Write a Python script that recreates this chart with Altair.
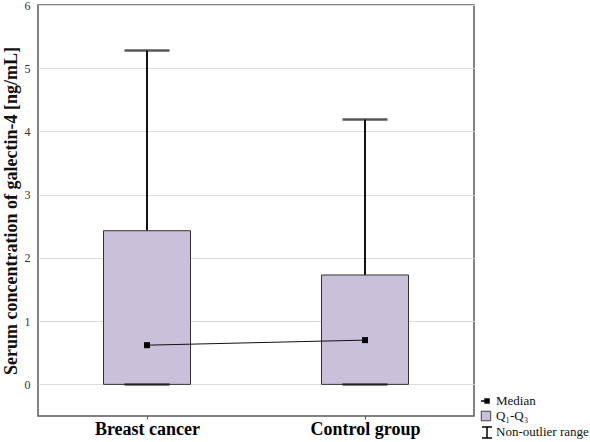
import altair as alt
import pandas as pd

# Box-plot summary of serum galectin-4 per group
groups = ["Breast cancer", "Control group"]
q1 = [0.0, 0.0]
q3 = [2.43, 1.73]
medians = [0.62, 0.70]
lower = [0.0, 0.0]
upper = [5.28, 4.19]

df = pd.DataFrame({
    "group": groups, "q1": q1, "q3": q3, "median": medians,
    "lo": lower, "hi": upper,
})

SERIF = "Liberation Serif"
BOX_FILL = "#cbc0da"

x_enc = alt.X(
    "group:N",
    sort=groups,
    scale=alt.Scale(type="point", padding=0.5),
    axis=alt.Axis(
        title=None, labelAngle=0, labelFont=SERIF, labelFontWeight="bold",
        labelFontSize=18, labelColor="#000", labelPadding=1,
        domain=False, ticks=True, tickSize=3, tickColor="#555",
    ),
)
y_scale = alt.Scale(domain=[-0.5, 6], nice=False, zero=False)
y_axis = alt.Axis(
    title="Serum concentration of galectin-4 [ng/mL]",
    titleFont=SERIF, titleFontWeight="bold", titleFontSize=18,
    titleColor="#111", titlePadding=4,
    values=[0, 1, 2, 3, 4, 5, 6], format="d",
    labelFont=SERIF, labelFontSize=12, labelColor="#333", labelPadding=8,
    grid=True, gridColor="#dcdcdc", gridWidth=1,
    domain=False, ticks=False,
)

base = alt.Chart(df)

whisker = base.mark_rule(color="#111", strokeWidth=2).encode(
    x=x_enc,
    y=alt.Y("q3:Q", scale=y_scale, axis=y_axis),
    y2="hi:Q",
)
box = base.mark_bar(size=87, fill=BOX_FILL, stroke="#333", strokeWidth=1).encode(
    x=x_enc, y=alt.Y("q1:Q", scale=y_scale), y2="q3:Q",
)
cap_hi = base.mark_tick(size=45, thickness=2.5, color="#111").encode(
    x=x_enc, y=alt.Y("hi:Q", scale=y_scale),
)
cap_lo = base.mark_tick(size=45, thickness=2.5, color="#111").encode(
    x=x_enc, y=alt.Y("lo:Q", scale=y_scale),
)
med_line = base.mark_line(color="#111", strokeWidth=1).encode(
    x=x_enc, y=alt.Y("median:Q", scale=y_scale),
)
med_pts = base.mark_point(shape="square", filled=True, size=36, color="#000", opacity=1).encode(
    x=x_enc, y=alt.Y("median:Q", scale=y_scale),
)

# Key in the lower-right corner, outside the plot frame
one = alt.Chart(pd.DataFrame({"k": [0]}))
lx_sym = 448
lx_txt = 458
key_font = dict(font=SERIF, fontSize=13, color="#111", align="left", baseline="middle")

key_med_line = one.mark_rule(color="#000", strokeWidth=1.5).encode(
    x=alt.value(lx_sym - 5), x2=alt.value(lx_sym + 3), y=alt.value(396))
key_med_pt = one.mark_point(shape="square", filled=True, size=30, color="#000", opacity=1).encode(
    x=alt.value(lx_sym + 1), y=alt.value(396))
key_med_txt = one.mark_text(**key_font).encode(
    x=alt.value(lx_txt), y=alt.value(396), text=alt.value("Median"))

key_box = one.mark_point(shape="square", filled=True, size=90, fill=BOX_FILL,
                         stroke="#444", strokeWidth=1, opacity=1).encode(
    x=alt.value(lx_sym), y=alt.value(411))
key_box_txt = one.mark_text(**key_font).encode(
    x=alt.value(lx_txt), y=alt.value(411), text=alt.value("Q₁-Q₃"))

key_rng_v = one.mark_rule(color="#000", strokeWidth=1.5).encode(
    x=alt.value(lx_sym + 1), y=alt.value(422), y2=alt.value(433))
key_rng_t = one.mark_rule(color="#000", strokeWidth=1.5).encode(
    x=alt.value(lx_sym - 4), x2=alt.value(lx_sym + 6), y=alt.value(422))
key_rng_b = one.mark_rule(color="#000", strokeWidth=1.5).encode(
    x=alt.value(lx_sym - 4), x2=alt.value(lx_sym + 6), y=alt.value(433))
key_rng_txt = one.mark_text(**key_font).encode(
    x=alt.value(lx_txt), y=alt.value(427), text=alt.value("Non-outlier range"))

chart = alt.layer(
    whisker, box, cap_hi, cap_lo, med_line, med_pts,
    key_med_line, key_med_pt, key_med_txt,
    key_box, key_box_txt,
    key_rng_v, key_rng_t, key_rng_b, key_rng_txt,
).properties(
    width=436, height=411,
    autosize=alt.AutoSizeParams(type="none"),
    padding={"left": 38, "top": 5, "right": 116, "bottom": 26},
    background="white",
).configure_view(
    stroke="#5a5a5a", strokeWidth=1.5,
)

chart.save("out.html", embed_options={"renderer": "svg", "actions": False})
